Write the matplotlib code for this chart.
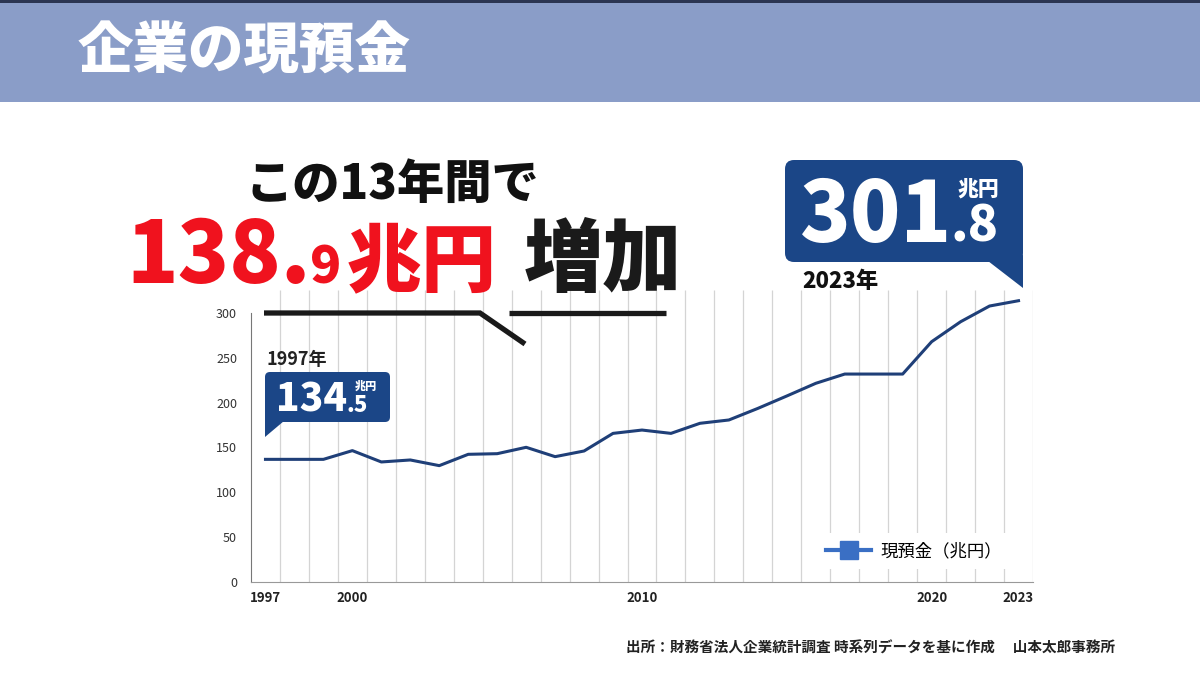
import numpy as np
import matplotlib
matplotlib.use('Agg')
import matplotlib.pyplot as plt
from matplotlib.patches import Rectangle, FancyBboxPatch, Polygon
from matplotlib.lines import Line2D

plt.rcParams['font.family'] = ['Noto Sans CJK JP', 'DejaVu Sans']

# data (兆円)
years = list(range(1997, 2024))
cash = [136.8, 136.8, 136.8, 146.5, 133.9, 136.1, 129.8, 142.4, 143.1, 150.2,
        139.8, 146.1, 165.7, 169.4, 165.7, 176.9, 180.6, 193.5, 207.3, 221.4,
        231.7, 231.7, 231.7, 267.7, 289.9, 307.4, 313.3]
shown_years = [1997, 2000, 2010, 2020, 2023]
yticks = [0, 50, 100, 150, 200, 250, 300]

W, H = 1200, 675
navy = '#1b4687'
line_col = '#1f3f78'

fig = plt.figure(figsize=(12, 6.75), dpi=100)
fig.patch.set_facecolor('white')

# chart axes, placed in pixels
x0, x1, yb, yt = 251, 1033, 582.3, 290.2
ax = fig.add_axes([x0 / W, (H - yb) / H, (x1 - x0) / W, (yb - yt) / H])
idx = np.arange(len(years))
ax.set_xlim(-0.5, len(years) - 0.5)
ax.set_ylim(0, 325)
ax.vlines(idx + 0.5, 0, 325, color='#d4d4d4', lw=0.9, zorder=0)
ax.plot(idx, cash, color=line_col, lw=2.2, zorder=3, solid_joinstyle='round')
for s in ['top', 'right']:
    ax.spines[s].set_visible(False)
ax.spines['left'].set_bounds(0, 300)
ax.spines['left'].set_color('#777777')
ax.spines['bottom'].set_color('#999999')
ax.set_yticks(yticks)
ax.set_yticklabels([str(v) for v in yticks], fontsize=9, color='#333333')
ax.set_xticks([years.index(y) for y in shown_years])
ax.set_xticklabels([str(y) for y in shown_years], fontsize=9.5,
                   fontweight='bold', color='#222222')
ax.tick_params(length=0, pad=6)
ax.tick_params(axis='y', pad=10)
ax.set_facecolor('none')

handle = Line2D([], [], color='#3a6fc4', lw=3, marker='s', markersize=13,
                markerfacecolor='#3a6fc4', markeredgecolor='#3a6fc4')
leg = fig.legend([handle], ['現預金（兆円）'], loc='center',
                 bbox_to_anchor=(914 / W, 1 - 551 / H), frameon=True,
                 fontsize=12.5, handlelength=2.6, handletextpad=0.5,
                 borderpad=0.5)
leg.get_frame().set_facecolor('white')
leg.get_frame().set_edgecolor('none')
leg.get_frame().set_alpha(1)

# overlay in pixel coordinates for the decorations
ov = fig.add_axes([0, 0, 1, 1])
ov.set_xlim(0, W)
ov.set_ylim(H, 0)
ov.axis('off')
ov.patch.set_alpha(0)


def right_edge(t):
    # right end of a text in overlay pixel coords
    fig.canvas.draw()
    bb = t.get_window_extent()
    return ov.transData.inverted().transform((bb.x1, bb.y0))[0]


ov.add_patch(Rectangle((0, 0), W, 102, color='#8a9dc8', lw=0))
ov.add_patch(Rectangle((0, 0), W, 3, color='#2b3552', lw=0))
ov.text(78, 52, '企業の現預金', color='white', fontsize=40, fontweight='heavy',
        va='center', ha='left')

ov.text(392, 185, 'この13年間で', color='#111111', fontsize=34,
        fontweight='heavy', va='center', ha='center')
red = '#f0121e'
t = ov.text(126, 283, '138.', color=red, fontsize=61, fontweight='heavy',
            va='baseline')
xe = right_edge(t)
t = ov.text(xe - 1, 283, '9', color=red, fontsize=37, fontweight='heavy',
            va='baseline')
xe = right_edge(t)
ov.text(xe + 6, 285, '兆円', color=red, fontsize=54, fontweight='heavy',
        va='baseline')
ov.text(524, 285, '増加', color='#1a1a1a', fontsize=57, fontweight='heavy',
        va='baseline')

# bracket under headline
ov.plot([264, 480, 525], [313, 313, 344], color='#1a1a1a', lw=3.8,
        solid_capstyle='butt', solid_joinstyle='miter')
ov.plot([509, 666], [313, 313], color='#1a1a1a', lw=3.8, solid_capstyle='butt')

# 2023 callout
ov.add_patch(FancyBboxPatch((785, 160), 238, 102,
                            boxstyle='round,pad=0,rounding_size=9',
                            fc=navy, ec='none'))
ov.add_patch(Polygon([(988, 261), (1023, 288), (1023, 255)], fc=navy, ec='none'))
ov.text(800, 242, '301', color='white', fontsize=60, fontweight='heavy', va='baseline')
ov.text(950, 242, '.8', color='white', fontsize=36, fontweight='heavy', va='baseline')
ov.text(978, 189, '兆円', color='white', fontsize=15, fontweight='heavy',
        va='center', ha='center')
ov.text(802, 288, '2023年', color='#111111', fontsize=16, fontweight='heavy',
        va='baseline')

# 1997 callout
ov.add_patch(FancyBboxPatch((265, 372), 125, 50,
                            boxstyle='round,pad=0,rounding_size=5',
                            fc=navy, ec='none'))
ov.add_patch(Polygon([(265, 415), (265, 437), (284, 421)], fc=navy, ec='none'))
ov.text(276, 412, '134', color='white', fontsize=28, fontweight='heavy', va='baseline')
ov.text(346, 412, '.5', color='white', fontsize=16, fontweight='heavy', va='baseline')
ov.text(366, 386, '兆円', color='white', fontsize=8, fontweight='heavy',
        va='center', ha='center')
ov.text(266, 365, '1997年', color='#222222', fontsize=13, fontweight='bold',
        va='baseline')

ov.text(1115, 648, '出所：財務省法人企業統計調査 時系列データを基に作成　 山本太郎事務所',
        color='#222222', fontsize=10.5, fontweight='bold', va='center', ha='right')

fig.savefig('out.png', dpi=100)
